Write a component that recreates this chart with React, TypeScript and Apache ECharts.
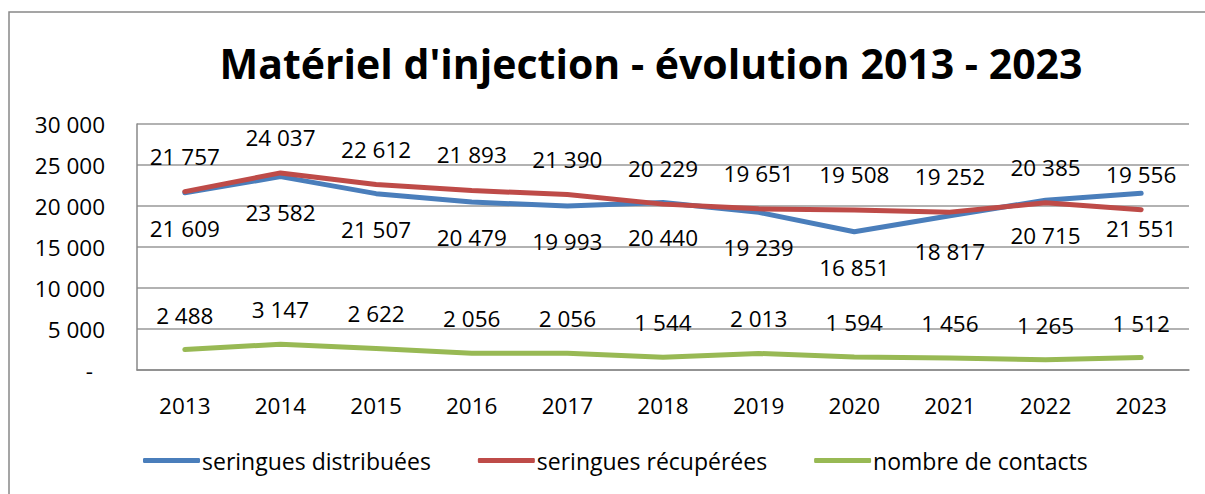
import React, { useEffect, useRef } from "react";
import * as echarts from "echarts";

const years = ["2013", "2014", "2015", "2016", "2017", "2018", "2019", "2020", "2021", "2022", "2023"];
const distribuees = [21609, 23582, 21507, 20479, 19993, 20440, 19239, 16851, 18817, 20715, 21551];
const recuperees = [21757, 24037, 22612, 21893, 21390, 20229, 19651, 19508, 19252, 20385, 19556];
const contacts = [2488, 3147, 2622, 2056, 2056, 1544, 2013, 1594, 1456, 1265, 1512];

const FONT = "'Open Sans', 'Noto Sans', sans-serif";

function fmt(v: number): string {
  if (v === 0) return "-";
  const s = String(Math.round(v));
  return s.replace(/\B(?=(\d{3})+(?!\d))/g, " ");
}

export default function App() {
  const ref = useRef<HTMLDivElement>(null);
  useEffect(() => {
    if (!ref.current) return;
    const chart = echarts.init(ref.current, null, { renderer: "svg" });
    const labelStyle = { show: true, fontFamily: FONT, fontSize: 22.5, color: "#000", formatter: (p: any) => fmt(p.value) };
    chart.setOption({
      animation: false,
      backgroundColor: "#fff",
      title: {
        text: "Matériel d'injection - évolution 2013 - 2023",
        left: 646,
        textAlign: "center",
        top: 37,
        textStyle: { fontFamily: FONT, fontSize: 41, fontWeight: "bold", color: "#000" },
      },
      graphic: [
        {
          type: "rect",
          shape: { x: 9, y: 12, width: 1400, height: 700 },
          style: { fill: "none", stroke: "#888", lineWidth: 1.5 },
          silent: true,
        },
      ],
      legend: {
        bottom: 17,
        left: 138,
        icon: "roundRect",
        itemWidth: 57,
        itemHeight: 5,
        itemGap: 47,
        textStyle: { fontFamily: FONT, fontSize: 23, color: "#000", padding: [0, 0, 0, -3] },
        data: ["seringues distribuées", "seringues récupérées", "nombre de contacts"],
      },
      grid: { left: 137, right: 16, top: 124, bottom: 124, containLabel: false },
      xAxis: {
        type: "category",
        data: years,
        boundaryGap: true,
        axisLine: { show: true, lineStyle: { color: "#888", width: 1.5 } },
        axisTick: { show: false },
        axisLabel: { fontFamily: FONT, fontSize: 22.5, color: "#000", margin: 24 },
      },
      yAxis: {
        type: "value",
        min: 0,
        max: 30000,
        interval: 5000,
        axisLine: { show: true, lineStyle: { color: "#888", width: 1.5 } },
        axisTick: { show: false },
        splitLine: { show: true, lineStyle: { color: "#999", width: 1.5 } },
        axisLabel: {
          fontFamily: FONT,
          fontSize: 22.5,
          color: "#000",
          margin: 32,
          formatter: (v: number) => (v === 0 ? "{d|-}" : fmt(v)),
          rich: { d: { fontFamily: FONT, fontSize: 22.5, color: "#000", padding: [0, 12, 0, 0] } },
        },
      },
      series: [
        {
          name: "seringues distribuées",
          type: "line",
          data: distribuees,
          symbol: "circle",
          symbolSize: 0.1,
          color: "#4A7EBB",
          lineStyle: { width: 5, color: "#4A7EBB", cap: "round" },
          label: { ...labelStyle, position: "bottom", distance: 24 },
        },
        {
          name: "seringues récupérées",
          type: "line",
          data: recuperees,
          symbol: "circle",
          symbolSize: 0.1,
          color: "#BE4B48",
          lineStyle: { width: 5, color: "#BE4B48", cap: "round" },
          label: { ...labelStyle, position: "top", distance: 24 },
        },
        {
          name: "nombre de contacts",
          type: "line",
          data: contacts,
          symbol: "circle",
          symbolSize: 0.1,
          color: "#98B954",
          lineStyle: { width: 5, color: "#98B954", cap: "round" },
          label: { ...labelStyle, position: "top", distance: 23 },
        },
      ],
    });
    return () => chart.dispose();
  }, []);
  return <div ref={ref} style={{ position: "absolute", left: 0, top: 0, width: 1205, height: 494 }} />;
}
